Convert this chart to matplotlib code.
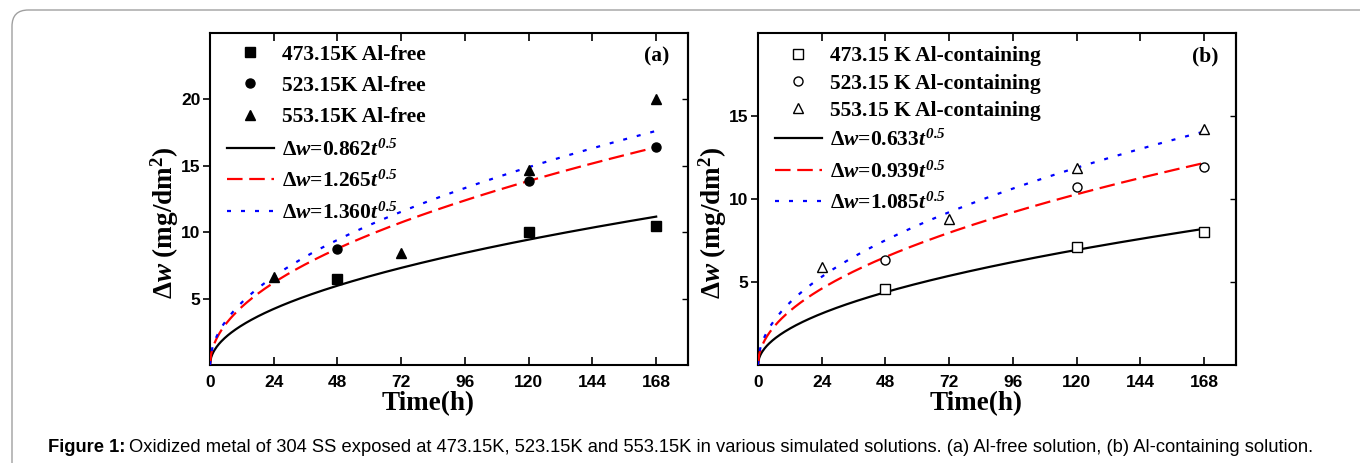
import numpy as np
import matplotlib.pyplot as plt
from matplotlib.patches import FancyBboxPatch

plt.rcParams["mathtext.fontset"] = "custom"
plt.rcParams["mathtext.rm"] = "Liberation Serif:bold"
plt.rcParams["mathtext.it"] = "Liberation Serif:italic:bold"
plt.rcParams["mathtext.bf"] = "Liberation Serif:bold"
plt.rcParams["mathtext.sf"] = "Liberation Serif:italic:bold"

# 氧化增重数据 (h, mg/dm^2)
t_473_free = [48, 120, 168]
w_473_free = [6.5, 10.0, 10.45]
t_523_free = [48, 120, 168]
w_523_free = [8.7, 13.85, 16.45]
t_553_free = [24, 72, 120, 168]
w_553_free = [6.6, 8.45, 14.7, 20.0]

t_473_al = [48, 120, 168]
w_473_al = [4.6, 7.1, 8.0]
t_523_al = [48, 120, 168]
w_523_al = [6.3, 10.7, 11.95]
t_553_al = [24, 72, 120, 168]
w_553_al = [5.9, 8.8, 11.85, 14.2]

# 抛物线拟合系数 Δw = k t^0.5
k_free = [0.862, 1.265, 1.360]
k_al = [0.633, 0.939, 1.085]

xticks = [0, 24, 48, 72, 96, 120, 144, 168]
yticks_a = [5, 10, 15, 20]
yticks_b = [5, 10, 15]

fig = plt.figure(figsize=(13.6, 4.63), dpi=100)

# 外框
frame = FancyBboxPatch((12 / 1360, -0.2), 1.2, (463 - 10) / 463 + 0.2,
                       boxstyle="round,pad=0,rounding_size=0.012",
                       transform=fig.transFigure, facecolor="none",
                       edgecolor="#a0a0a0", lw=1.0, mutation_aspect=1360 / 463)
fig.patches.append(frame)

line_styles = [
    dict(color="black", ls="-"),
    dict(color="red", ls=(0, (7, 3))),
    dict(color="blue", ls=(0, (1.8, 4.5))),
]

legend_prop = dict(family="Liberation Serif", weight="bold", size=15.5)
tick_font = dict(family="Liberation Sans", weight="bold", size=12.5)
label_font = dict(family="Liberation Serif", weight="bold", size=19.5)


def draw_panel(left, series, ks, names, filled, ylim, yticks, tag,
               sp_marks, top_marks, top_lines):
    ax = fig.add_axes([left, 0.2117, 0.3515, 0.717])
    markers = ["s", "o", "^"]
    mark_handles = []
    for (t, w), m, name in zip(series, markers, names):
        h, = ax.plot(t, w, ls="none", marker=m, ms=6.5 if m != "^" else 7.5,
                     mfc="black" if filled else "white", mec="black",
                     mew=1.0, label=name, zorder=4)
        mark_handles.append(h)
    tt = np.linspace(0, 168, 400)
    line_handles = []
    for k, st in zip(ks, line_styles):
        h, = ax.plot(tt, k * np.sqrt(tt), lw=1.6, color=st["color"],
                     ls=st["ls"], label="Δ$w$=%.3f$t^{\\mathsf{0.5}}$" % k,
                     zorder=3)
        line_handles.append(h)

    ax.set_xlim(0, 180)
    ax.set_ylim(*ylim)
    ax.set_xticks(xticks)
    ax.set_yticks(yticks)
    for lab in ax.get_xticklabels() + ax.get_yticklabels():
        lab.set_fontproperties(tick_font)
    ax.tick_params(axis="x", direction="in", length=6, width=1.2, pad=7,
                   top=True)
    ax.tick_params(axis="y", direction="out", length=5, width=1.2, pad=2)
    sec = ax.secondary_yaxis("right")
    sec.set_yticks(yticks)
    sec.tick_params(direction="in", length=4, width=1.0, labelright=False)
    for sp in list(ax.spines.values()) + [sec.spines["right"]]:
        sp.set_linewidth(1.5)

    ax.set_xlabel("Time(h)", **label_font)
    ax.xaxis.set_label_coords(0.456, -0.078)
    ax.set_ylabel("Δ$w$ (mg/dm$^2$)", **label_font)
    ax.yaxis.set_label_coords(-0.06, 0.43)

    common = dict(loc="upper left", frameon=False, prop=legend_prop,
                  numpoints=1, handlelength=2.2, handletextpad=0.35,
                  borderpad=0, borderaxespad=0)
    leg1 = ax.legend(handles=mark_handles, bbox_to_anchor=(0.035, top_marks),
                     labelspacing=sp_marks, **common)
    ax.add_artist(leg1)
    ax.legend(handles=line_handles, bbox_to_anchor=(0.035, top_lines),
              labelspacing=0.48, **common)
    ax.text(0.935, 0.93, tag, transform=ax.transAxes, ha="center",
            va="center", family="Liberation Serif", weight="bold", size=15.5)
    return ax


draw_panel(210 / 1360,
           [(t_473_free, w_473_free), (t_523_free, w_523_free),
            (t_553_free, w_553_free)],
           k_free,
           ["473.15K Al-free", "523.15K Al-free", "553.15K Al-free"],
           True, (0, 25), yticks_a, "(a)", 0.52, 0.965, 0.68)

draw_panel(758 / 1360,
           [(t_473_al, w_473_al), (t_523_al, w_523_al),
            (t_553_al, w_553_al)],
           k_al,
           ["473.15 K Al-containing", "523.15 K Al-containing",
            "553.15 K Al-containing"],
           False, (0, 20), yticks_b, "(b)", 0.33, 0.96, 0.709)

# 图题
cap_y = 1 - 448 / 463
t1 = fig.text(48 / 1360, cap_y, "Figure 1:", family="Liberation Sans",
              weight="bold", size=13.2, va="center")
fig.canvas.draw()
bb = t1.get_window_extent()
fig.text(bb.x1 / 1360 + 4 / 1360, cap_y,
         "Oxidized metal of 304 SS exposed at 473.15K, 523.15K and 553.15K "
         "in various simulated solutions. (a) Al-free solution, "
         "(b) Al-containing solution.",
         family="Liberation Sans", size=13.2, va="center")

fig.savefig("out.png", dpi=100)
